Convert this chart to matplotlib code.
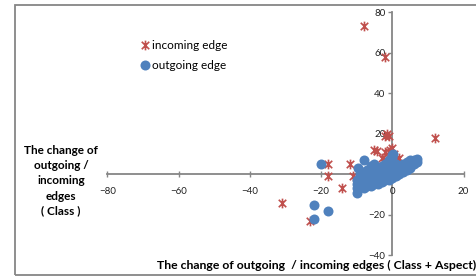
import matplotlib
matplotlib.use("Agg")
import matplotlib.pyplot as plt
from matplotlib.path import Path

# incoming edge (red stars)
in_x = [-8, -2, 12, -2, -1.5, -1, -5, -4.3, -2, -0.6, 0, 1.3, 2, -2.4, -3,
        -18, -18, -12, -11, -14, -31, -23, -10, -6, -8, -9, 0.5, -1]
in_y = [73, 58, 18, 19, 20, 19, 12, 11.5, 11, 12, 13, 7, 8, 7, 8,
        5, -1, 5, -1, -7, -14, -23, -8, 2, -2, -5, 10, 11]

# outgoing edge (blue circles)
out_x = [-20, -8, -22, -22, -18, -10, -9.5, -5, 0, 0.3,
         -10, -10, -10, -9, -9, -9, -9, -8, -8, -8, -8, -8,
         -7, -7, -7, -7, -7, -6, -6, -6, -6, -6, -6,
         -5, -5, -5, -5, -5, -4, -4, -4, -4, -4,
         -3, -3, -3, -3, -3, -2, -2, -2, -2, -2,
         -1, -1, -1, -1, -1, -1, 0, 0, 0, 0, 0, 0,
         1, 1, 1, 1, 2, 2, 2, 3, 3, 3, 4, 4, 4,
         5, 5, 5, 6, 6, 7, 7]
out_y = [5, 7, -15, -22, -18, -9, 3, 5, 9.5, 10,
         -7, -5, -3, -6, -4, -2, 0, -7, -5, -3, -1, 1,
         -6, -4, -2, 0, 2, -6, -4, -2, 0, 2, 4,
         -5, -3, -1, 1, 3, -5, -3, -1, 1, 3,
         -4, -2, 0, 2, 4, -3, -1, 1, 3, 5,
         -3, -1, 1, 3, 5, 7, -2, 0, 2, 4, 6, 8,
         -1, 1, 3, 5, 0, 2, 4, 1, 3, 5, 2, 4, 6,
         3, 5, 7, 5, 7, 6, 7.5]

red = "#C0504D"
blue = "#4F81BD"
axis_grey = "#868686"

plt.rcParams["font.family"] = ["Lato", "DejaVu Sans"]

# Excel style star: an x with a vertical bar
star = Path([(-1, -1), (1, 1), (-1, 1), (1, -1), (0, -1.3), (0, 1.3)],
            [Path.MOVETO, Path.LINETO, Path.MOVETO, Path.LINETO,
             Path.MOVETO, Path.LINETO])

fig = plt.figure(figsize=(4.76, 2.77), dpi=100)
ax = fig.add_axes([107.3 / 476, 1 - 255.3 / 277, (463.5 - 107.3) / 476, (255.3 - 12.3) / 277])
ax.patch.set_alpha(0)

ax.plot(in_x, in_y, linestyle="none", marker=star, markersize=7,
        markerfacecolor="none", markeredgecolor=red, markeredgewidth=1.2,
        label="incoming edge", zorder=3)
ax.plot(out_x, out_y, linestyle="none", marker="o", markersize=7.2,
        color=blue, markeredgewidth=0, label="outgoing edge", zorder=4)

ax.set_xlim(-80, 20)
ax.set_ylim(-40, 80)
ax.set_xticks([-80, -60, -40, -20, 0, 20])
ax.set_yticks([-40, -20, 0, 20, 40, 60, 80])

for side in ["top", "right"]:
    ax.spines[side].set_visible(False)
ax.spines["left"].set_position(("data", 0))
ax.spines["bottom"].set_position(("data", 0))
for side in ["left", "bottom"]:
    ax.spines[side].set_color(axis_grey)
    ax.spines[side].set_linewidth(1.3)
    ax.spines[side].set_zorder(1)

ax.tick_params(axis="x", direction="inout", length=4, width=1, color=axis_grey,
               labelsize=7, labelcolor="#222222", pad=7)
ax.tick_params(axis="y", direction="out", length=3, width=1, color=axis_grey,
               labelsize=7, labelcolor="#222222", pad=2)

leg = ax.legend(loc="upper left", bbox_to_anchor=(0.075, 0.905), frameon=False,
                fontsize=8.5, handletextpad=0.1, handlelength=1.0,
                labelspacing=0.75, borderaxespad=0)

fig.text(476 / 476, 1 - 265 / 277,
         "The change of outgoing  / incoming edges ( Class + Aspect)",
         ha="right", va="center", fontsize=8.8, fontweight="bold")
fig.text(61 / 476, 1 - 181 / 277,
         "The change of\noutgoing /\nincoming\nedges\n( Class )",
         ha="center", va="center", fontsize=8.5, fontweight="bold",
         linespacing=1.45)

# chart area border
fig.add_artist(plt.Rectangle((15 / 476, 2 / 277), 1.0, 1 - 7 / 277,
                             transform=fig.transFigure, fill=False,
                             edgecolor=axis_grey, linewidth=1.3))

fig.savefig("out.png", dpi=100)
